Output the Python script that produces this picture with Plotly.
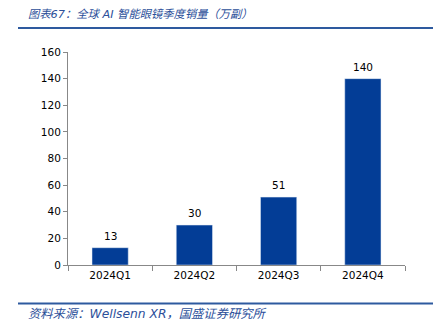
import plotly.graph_objects as go

categories = ["2024Q1", "2024Q2", "2024Q3", "2024Q4"]
values = [13, 30, 51, 140]
y_ticks = [0, 20, 40, 60, 80, 100, 120, 140, 160]

W, H = 447, 327
L, R, T, B = 68, 42, 52, 62
pw, ph = W - L - R, H - T - B

def px(x):
    return (x - L) / pw

def py(y):
    return (H - B - y) / ph

bar_color = "#033D96"
blue_text = "#2C4F9A"
line_color = "#2E5A9F"
tick_font = dict(family="DejaVu Sans", size=10.5, color="#000")

fig = go.Figure(go.Bar(
    x=categories, y=values, marker_color=bar_color, width=0.43,
))

annotations = [
    dict(x=c, y=v, xref="x", yref="y", text=str(v), showarrow=False,
         yanchor="middle", yshift=12, font=tick_font)
    for c, v in zip(categories, values)
]
annotations += [
    dict(xref="paper", yref="paper", x=px(26), y=py(14), xanchor="left",
         yanchor="middle", showarrow=False,
         text="<i>图表67：全球 AI 智能眼镜季度销量（万副）</i>",
         font=dict(family="DejaVu Sans, Noto Sans CJK SC", size=11.3, color=blue_text)),
    dict(xref="paper", yref="paper", x=px(26), y=py(314), xanchor="left",
         yanchor="middle", showarrow=False,
         text="<i>资料来源：Wellsenn XR，国盛证券研究所</i>",
         font=dict(family="DejaVu Sans, Noto Sans CJK SC", size=12.3, color=blue_text)),
]

fig.update_layout(
    width=W, height=H,
    margin=dict(l=L, r=R, t=T, b=B),
    paper_bgcolor="white", plot_bgcolor="white",
    showlegend=False,
    font=tick_font,
    xaxis=dict(showline=True, linecolor="#888", linewidth=1, ticks="outside",
               tickson="boundaries", ticklen=5, tickcolor="#888",
               tickfont=tick_font, showgrid=False),
    yaxis=dict(range=[0, 160], tickvals=y_ticks, showline=True, linecolor="#888",
               linewidth=1, ticks="outside", ticklen=4, tickcolor="#888",
               showgrid=False, zeroline=False, tickfont=tick_font),
    shapes=[
        dict(type="line", xref="paper", yref="paper", x0=px(18), x1=px(433),
             y0=py(28), y1=py(28), line=dict(color=line_color, width=2)),
        dict(type="line", xref="paper", yref="paper", x0=px(18), x1=px(433),
             y0=py(303.5), y1=py(303.5), line=dict(color=line_color, width=2)),
    ],
    annotations=annotations,
)

fig.write_html("out.html")
